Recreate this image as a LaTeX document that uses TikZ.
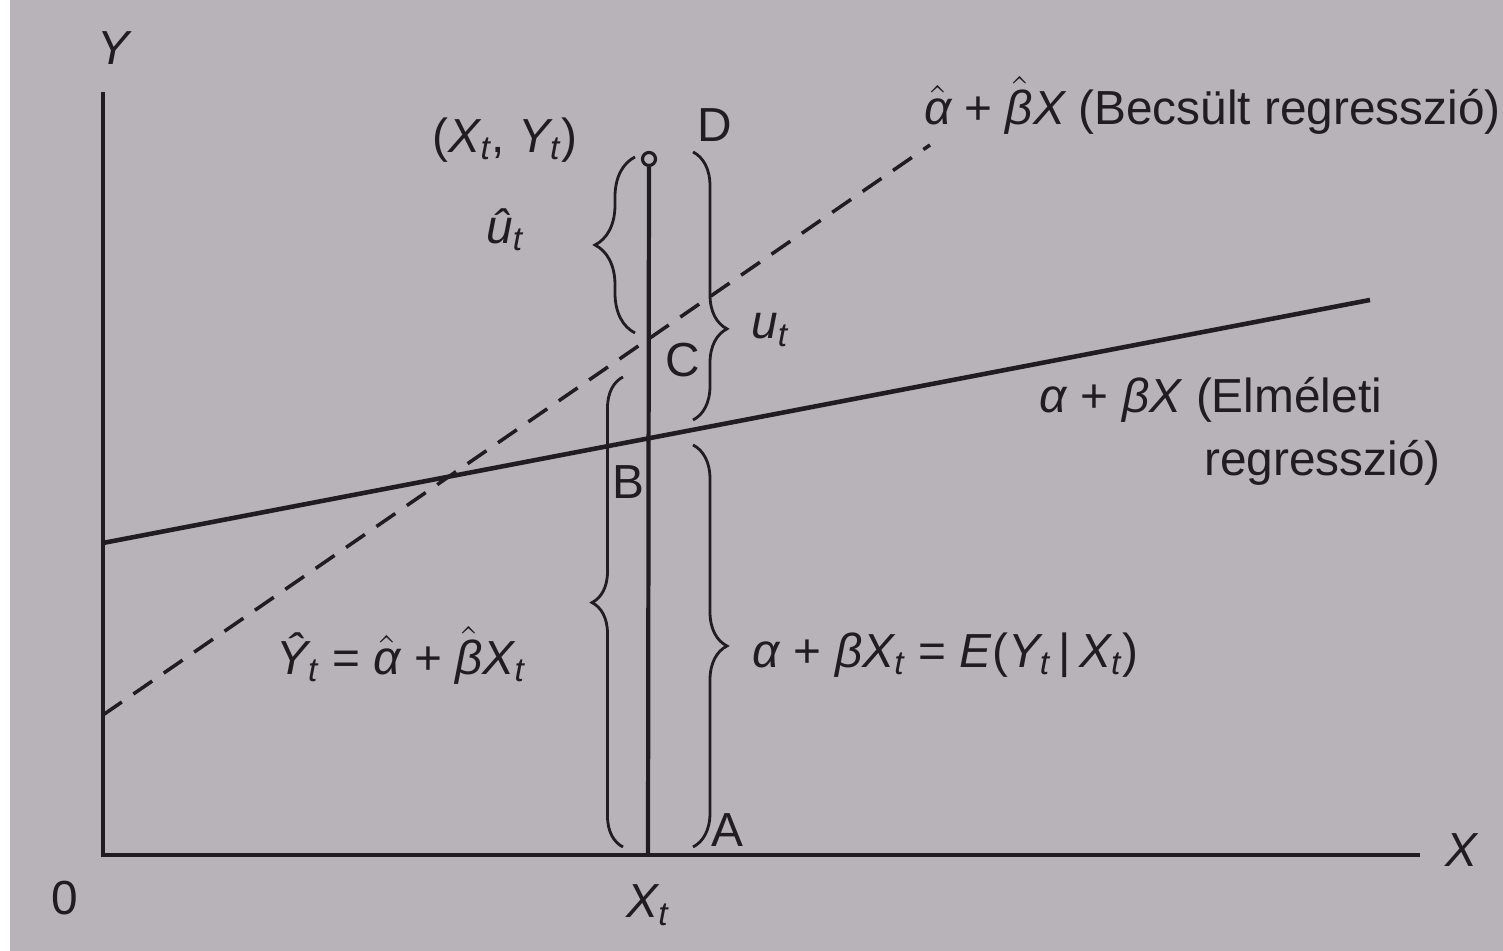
\documentclass[tikz,border=0pt]{standalone}
\usepackage{amsmath}
\usepackage{fontspec}
\setmainfont{Liberation Sans}
\usetikzlibrary{decorations.pathreplacing,calc}
\definecolor{paper}{RGB}{184,179,184}
\definecolor{ink}{RGB}{32,29,33}
\tikzset{
  axis/.style={ink,line width=1pt},
  theo/.style={ink,line width=1.3pt},                          % elmeleti regresszio
  est/.style={ink,line width=1pt,dash pattern=on 6.5pt off 4pt},% becsult regresszio
  vert/.style={ink,line width=1.2pt},
  brc/.style 2 args={decorate,decoration={brace,amplitude=#1,aspect=#2},ink,line width=0.8pt},
  obs/.style={circle,draw=ink,fill=paper,line width=0.9pt,inner sep=0pt,minimum size=0.13cm},
  lbl/.style={text=ink,font=\fontsize{13.6}{16}\selectfont,inner sep=1pt},
}
\newcommand{\vv}[1]{\text{\itshape #1}}

\begin{document}
\begin{tikzpicture}
  \useasboundingbox (0,0) rectangle (15.03,9.51);
  \fill[white] (0,0) rectangle (0.10,9.51);
  \fill[paper] (0.10,0) rectangle (15.03,9.51);
  % axes
  \coordinate (O) at (1.03,0.96);
  \coordinate (ytop) at (1.03,8.59);
  \coordinate (xend) at (14.20,0.96);
  \draw[axis] (ytop) -- (O) -- (xend);
  % regression lines
  \coordinate (th0) at (1.03,4.08);
  \coordinate (th1) at (13.70,6.51);
  \coordinate (es0) at (1.03,2.36);
  \coordinate (es1) at (9.30,8.06);
  \draw[theo] (th0) -- (th1);
  \draw[est] (es0) -- (es1);
  % observation X_t, Y_t
  \coordinate (A) at (6.48,0.96);
  \node[obs] (D) at (6.49,7.92) {};
  \draw[vert] (A) -- (D);
  % brace end points
  \foreach \n/\x/\y in {uh0/6.35/6.18, uh1/6.35/7.94, ut0/6.93/7.99, ut1/6.93/5.31,
                        bb0/6.23/1.04, bb1/6.23/5.74, aa0/6.93/5.06, aa1/6.93/1.04}
    \coordinate (\n) at (\x,\y);
  \draw[brc={0.40cm}{0.5}] (uh0) -- (uh1);
  \draw[brc={0.34cm}{0.66}] (ut0) -- (ut1);
  \draw[brc={0.31cm}{0.52}] (bb0) -- (bb1);
  \draw[brc={0.34cm}{0.5}] (aa0) -- (aa1);
  % labels
  \node[lbl] (ylab) at (1.15,9.03) {\textit{Y}};
  \node[lbl] (xlab) at (14.62,1.01) {\textit{X}};
  \node[lbl] (olab) at (0.65,0.53) {0};
  \node[lbl] (xtlab) at (6.48,0.46) {$\vv{X}_{\vv{t}}$};
  \node[lbl] (alab) at (7.27,1.21) {A};
  \node[lbl] (blab) at (6.28,4.69) {B};
  \node[lbl] (clab) at (6.83,5.91) {C};
  \node[lbl] (dlab) at (7.15,8.26) {D};
  \node[lbl] (pt) at (5.05,8.11) {($\vv{X}_{\vv{t}}$, $\vv{Y}_{\vv{t}}$)};
  \node[lbl] (uhat) at (5.05,7.21) {$\vv{û}_{\vv{t}}$};
  \node[lbl] (ulab) at (7.70,6.21) {$\vv{u}_{\vv{t}}$};
  \node[lbl,anchor=west] (estlab) at (9.20,8.46)
    {$\hat{\vv{α}}$ + $\hat{\vv{β}}\vv{X}$ (Becsült regresszió)};
  \node[lbl,anchor=west] (theolab) at (10.35,5.51) {\textit{α} + \textit{βX} (Elméleti};
  \node[lbl,anchor=west] (theolab2) at (12.00,4.88) {regresszió)};
  \node[lbl,anchor=west] (esteq) at (2.72,2.96)
    {$\vv{Ŷ}_{\vv{t}}$ = $\hat{\vv{α}}$ + $\hat{\vv{β}}\vv{X}_{\vv{t}}$};
  \node[lbl,anchor=west] (theoeq) at (7.48,2.96)
    {\textit{α} + \textit{β}$\vv{X}_{\vv{t}}$ = \textit{E}($\vv{Y}_{\vv{t}}$\,|\,$\vv{X}_{\vv{t}}$)};
\end{tikzpicture}
\end{document}
